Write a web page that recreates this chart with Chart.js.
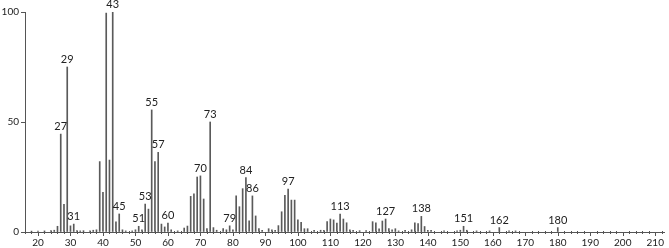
<!DOCTYPE html>
<html>
<head>
<meta charset="utf-8">
<script src="https://cdn.jsdelivr.net/npm/chart.js@4.4.0/dist/chart.umd.min.js"></script>
<style>
  html, body { margin: 0; padding: 0; background: #fff; }
</style>
</head>
<body>
<canvas id="spectrum" width="669" height="248"></canvas>
<script>
// m/z values and relative intensities
const mz = [15, 18, 20, 22, 24, 25, 26, 27, 28, 29, 30, 31, 32, 33, 34, 36, 37, 38, 39, 40,
  41, 42, 43, 44, 45, 46, 47, 49, 50, 51, 52, 53, 54, 55, 56, 57, 58, 59, 60, 61,
  63, 65, 66, 67, 68, 69, 70, 71, 72, 73, 74, 75, 77, 78, 79, 80, 81, 82, 83, 84,
  85, 86, 87, 88, 89, 91, 92, 93, 94, 95, 96, 97, 98, 99, 100, 101, 102, 103, 105, 107,
  108, 109, 110, 111, 112, 113, 114, 115, 116, 117, 119, 121, 123, 124, 125, 126, 127, 128, 129, 130,
  131, 133, 135, 136, 137, 138, 139, 140, 141, 145, 149, 150, 151, 152, 155, 159, 162, 165, 167, 180];
const intensity = [0.5, 0.4, 0.4, 0.5, 0.6, 0.8, 2.6, 44.5, 12.6, 75, 2.8, 3.6, 0.6, 0.5, 0.6, 0.5, 0.8, 1, 32, 18,
  99.5, 32.7, 100, 4.6, 8.2, 1, 0.5, 0.5, 1, 2.6, 1, 12.7, 10.4, 55.5, 32, 36.2, 3.6, 2.3, 4, 1,
  0.5, 1.8, 2.7, 16.2, 17.3, 25, 25.5, 15, 1.5, 50, 2, 0.8, 1.5, 1, 2.8, 1, 16.4, 11.5, 19.7, 24.7,
  5.1, 16.4, 7.3, 1.5, 0.8, 1.5, 1, 0.8, 2.9, 9.2, 16.7, 19.5, 14.5, 14.5, 5.5, 4.4, 1.5, 1.5, 0.8, 0.8,
  0.8, 4.7, 5.9, 5.5, 4, 8.2, 5.9, 4.2, 1, 0.8, 0.6, 0.6, 4.7, 4.2, 1.4, 5, 5.9, 1.5, 1, 1.5,
  0.5, 0.8, 1, 4.2, 3.8, 7.1, 2.5, 0.8, 0.8, 0.5, 0.5, 0.8, 2.6, 0.8, 0.5, 0.5, 2, 0.5, 0.5, 2];
const labelledPeaks = [27, 29, 31, 43, 45, 51, 53, 55, 57, 60, 70, 73, 79, 84, 86, 97, 113, 127, 138, 151, 162, 180];
const yTickValues = [0, 50, 100];
const xMajorTicks = [20, 30, 40, 50, 60, 70, 80, 90, 100, 110, 120, 130, 140, 150, 160, 170, 180, 190, 200, 210];

const axisColor = "#555";
const labelFont = "11px Lato";

// tick marks on the m/z axis: long ones every 10, short ones every 2
const axisTicks = {
  id: "axisTicks",
  afterDraw(chart) {
    const ctx = chart.ctx;
    const x = chart.scales.x;
    const base = chart.chartArea.bottom;
    ctx.save();
    ctx.strokeStyle = axisColor;
    ctx.lineWidth = 1;
    for (let v = Math.ceil(x.min / 2) * 2; v <= x.max; v += 2) {
      const px = Math.round(x.getPixelForValue(v)) + 0.5;
      const major = xMajorTicks.includes(v);
      ctx.beginPath();
      ctx.moveTo(px, major ? base : base - 1);
      ctx.lineTo(px, major ? base + 4 : base + 2);
      ctx.stroke();
    }
    ctx.restore();
  }
};

// m/z number above the labelled peaks
const peakLabels = {
  id: "peakLabels",
  afterDatasetsDraw(chart) {
    const ctx = chart.ctx;
    const meta = chart.getDatasetMeta(0);
    ctx.save();
    ctx.fillStyle = "#222";
    ctx.font = labelFont;
    ctx.textAlign = "center";
    ctx.textBaseline = "bottom";
    meta.data.forEach((bar, i) => {
      if (labelledPeaks.includes(mz[i])) {
        ctx.fillText(String(mz[i]), bar.x, bar.y - 2);
      }
    });
    ctx.restore();
  }
};

new Chart(document.getElementById("spectrum"), {
  type: "bar",
  data: {
    datasets: [{
      data: mz.map((m, i) => ({ x: m, y: intensity[i] })),
      backgroundColor: "#5a5a5a",
      borderWidth: 0,
      barThickness: 1
    }]
  },
  options: {
    responsive: false,
    devicePixelRatio: 1,
    animation: false,
    layout: { padding: { top: 12, right: 4, left: 0, bottom: 0 } },
    plugins: { legend: { display: false }, tooltip: { enabled: false } },
    scales: {
      x: {
        type: "linear",
        offset: false,
        min: 16,
        max: 213,
        afterBuildTicks: scale => { scale.ticks = xMajorTicks.map(v => ({ value: v })); },
        afterFit: scale => { scale.height = 16; },
        grid: { display: true, drawOnChartArea: false, drawTicks: false },
        border: { display: true, color: axisColor, width: 1 },
        ticks: {
          autoSkip: false,
          maxRotation: 0,
          padding: 5,
          color: "#222",
          font: { family: "Lato", size: 10 }
        }
      },
      y: {
        min: 0,
        max: 100,
        afterBuildTicks: scale => { scale.ticks = yTickValues.map(v => ({ value: v })); },
        afterFit: scale => { scale.width = 25; },
        grid: { display: true, drawOnChartArea: false, drawTicks: true, tickLength: 4, color: axisColor },
        border: { display: true, color: axisColor, width: 1 },
        ticks: {
          padding: 2,
          color: "#222",
          font: { family: "Lato", size: 10 }
        }
      }
    }
  },
  plugins: [axisTicks, peakLabels]
});
</script>
</body>
</html>
